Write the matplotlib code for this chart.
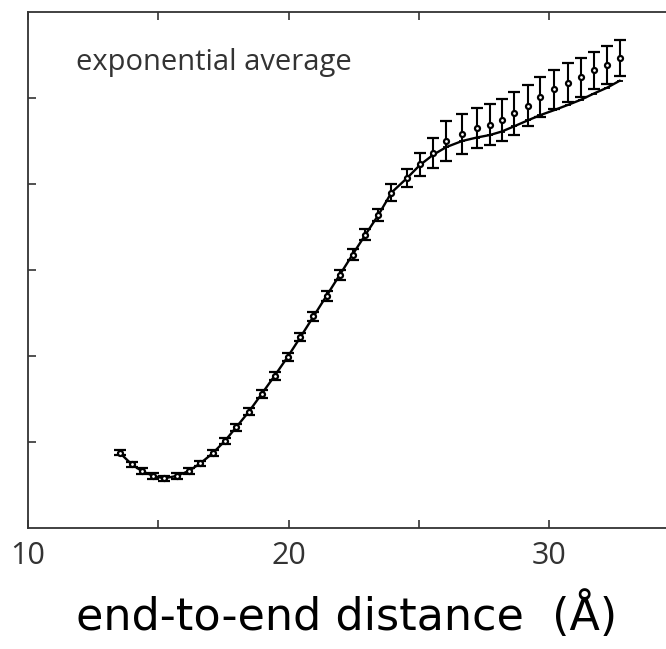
import numpy as np
import matplotlib.pyplot as plt

# distances (A)
dist = [13.51, 13.98, 14.36, 14.80, 15.22, 15.70, 16.17, 16.61, 17.08, 17.56,
        17.98, 18.47, 18.96, 19.46, 19.96, 20.45, 20.95, 21.45, 21.95, 22.45,
        22.94, 23.44, 23.94, 24.54, 25.03, 25.54, 26.05, 26.65, 27.21, 27.72,
        28.17, 28.64, 29.17, 29.64, 30.19, 30.71, 31.21, 31.69, 32.21, 32.69]

# exponential average (points with error bars)
expavg = [0.876, 0.740, 0.663, 0.605, 0.578, 0.605, 0.663, 0.752, 0.868, 1.015,
          1.170, 1.352, 1.558, 1.770, 1.990, 2.220, 2.460, 2.700, 2.940, 3.180,
          3.410, 3.640, 3.900, 4.070, 4.230, 4.360, 4.500, 4.580, 4.650, 4.690,
          4.740, 4.820, 4.910, 5.015, 5.100, 5.180, 5.240, 5.320, 5.380, 5.470]

err = [0.030, 0.030, 0.030, 0.030, 0.030, 0.030, 0.030, 0.032, 0.034, 0.036,
       0.038, 0.040, 0.042, 0.045, 0.048, 0.050, 0.053, 0.056, 0.059, 0.062,
       0.065, 0.070, 0.097, 0.108, 0.136, 0.175, 0.227, 0.236, 0.230, 0.240,
       0.245, 0.250, 0.240, 0.235, 0.230, 0.225, 0.225, 0.220, 0.220, 0.210]

# reference curve (solid line)
ref = [0.876, 0.740, 0.663, 0.605, 0.578, 0.605, 0.663, 0.752, 0.868, 1.015,
       1.170, 1.352, 1.558, 1.770, 1.990, 2.220, 2.460, 2.700, 2.940, 3.180,
       3.410, 3.640, 3.900, 4.070, 4.220, 4.340, 4.430, 4.500, 4.540, 4.570,
       4.610, 4.670, 4.740, 4.800, 4.860, 4.920, 4.980, 5.050, 5.120, 5.200]

xticks = [10, 15, 20, 25, 30]
xticklabels = ['10', '', '20', '', '30']

fig = plt.figure(figsize=(6.66, 6.49), dpi=100)
ax = fig.add_axes([28/666, 1 - 528/649, 1 - 28/666, 516/649])

ax.plot(dist, ref, color='black', lw=1.7, marker='_', ms=5, mew=1.3, zorder=2)
ax.errorbar(dist, expavg, yerr=err, fmt='o', ms=3.6, mfc='white', mec='black',
            mew=1.6, ecolor='black', elinewidth=1.5, capsize=4.2, capthick=1.5,
            zorder=3)

ax.set_xlim(10, 34.47)
ax.set_ylim(0, 6)
ax.set_xticks(xticks)
ax.set_xticklabels(xticklabels, fontfamily='Open Sans', fontsize=22, color='#333333')
ax.set_yticks([1, 2, 3, 4, 5])
ax.set_yticklabels([])
ax.tick_params(axis='x', direction='in', length=6, width=1.2, top=True, pad=9,
               color='#333333')
ax.tick_params(axis='y', direction='in', length=6, width=1.2, right=False,
               color='#333333')
ax.spines['right'].set_visible(False)
for s in ['left', 'bottom', 'top']:
    ax.spines[s].set_color('#333333')
    ax.spines[s].set_linewidth(1.3)

fig.text(76/666, 1 - 70/649, 'exponential average', fontfamily='Open Sans',
         fontsize=21, color='#333333')

ax.set_xlabel('end-to-end distance  (Å)', fontsize=32, labelpad=15)

fig.savefig('out.png', dpi=100)
